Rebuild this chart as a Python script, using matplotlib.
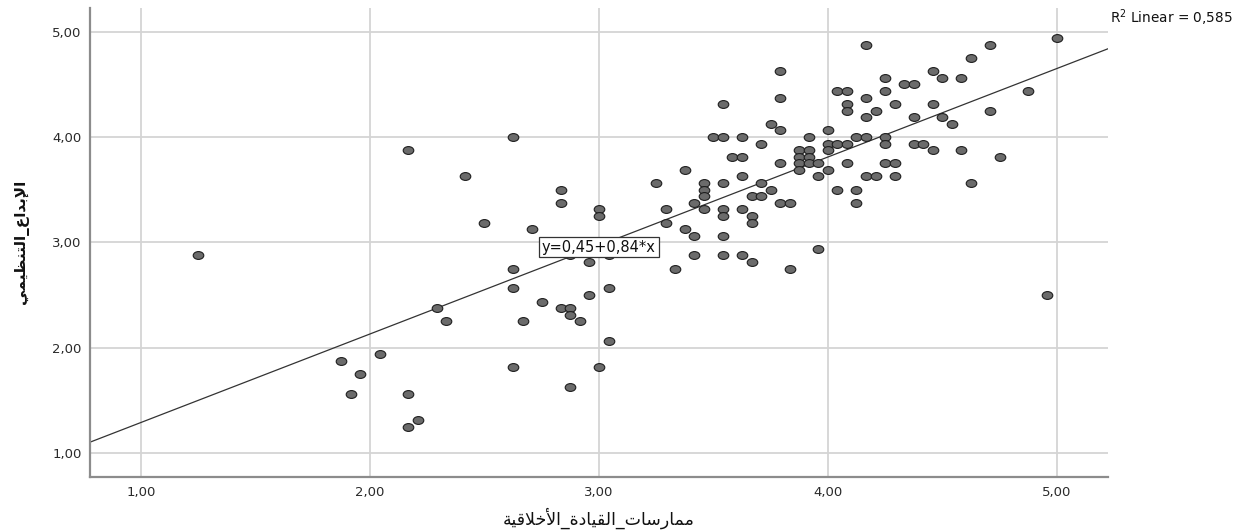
import matplotlib
matplotlib.use("Agg")
import matplotlib.pyplot as plt
import numpy as np
from matplotlib.path import Path
from matplotlib.transforms import Affine2D
from matplotlib.ticker import FuncFormatter, FixedLocator

# ---------------- data ----------------
x_vals = [1.25, 2.167, 2.417, 2.5, 2.625, 2.625, 2.292, 2.333, 2.667, 2.042,
          1.875, 1.958, 1.917, 2.167, 2.208, 2.167, 2.625, 2.625, 2.833, 2.833,
          2.708, 3.0, 3.0, 2.875, 3.042, 2.958, 3.042, 2.958, 2.75, 2.833,
          2.875, 2.875, 2.917, 3.042, 3.0, 2.875, 3.25, 3.292, 3.292, 3.375,
          3.417, 3.375, 3.417, 3.417, 3.333, 3.458, 3.458, 3.458, 3.458, 3.5,
          3.542, 3.542, 3.625, 3.583, 3.625, 3.542, 3.625, 3.542, 3.542, 3.625,
          3.667, 3.667, 3.542, 3.542, 3.625, 3.667, 3.708, 3.75, 3.792, 3.708,
          3.667, 3.708, 3.75, 3.792, 3.792, 3.833, 4.167, 3.792, 3.792, 3.917,
          4.0, 4.042, 4.083, 4.083, 4.083, 4.167, 4.167, 4.208, 4.25, 4.25,
          4.292, 4.333, 4.375, 4.458, 4.5, 4.458, 4.375, 4.5, 4.0, 4.042,
          4.083, 4.125, 4.167, 4.25, 4.25, 4.375, 4.417, 4.458, 4.0, 3.875,
          3.875, 3.875, 3.875, 3.917, 3.917, 3.917, 3.958, 4.0, 4.083, 4.25,
          4.292, 3.958, 4.042, 4.125, 4.125, 4.167, 4.208, 4.292, 3.833, 3.958,
          5.0, 4.708, 4.625, 4.583, 4.875, 4.542, 4.708, 4.583, 4.75, 4.625,
          4.958]
y_vals = [2.875, 3.875, 3.625, 3.1875, 2.75, 2.5625, 2.375, 2.25, 2.25, 1.9375,
          1.875, 1.75, 1.5625, 1.5625, 1.3125, 1.25, 1.8125, 4.0, 3.5, 3.375,
          3.125, 3.3125, 3.25, 2.875, 2.875, 2.8125, 2.5625, 2.5, 2.4375, 2.375,
          2.375, 2.3125, 2.25, 2.0625, 1.8125, 1.625, 3.5625, 3.3125, 3.1875, 3.6875,
          3.375, 3.125, 3.0625, 2.875, 2.75, 3.5625, 3.5, 3.4375, 3.3125, 4.0,
          4.0, 4.3125, 4.0, 3.8125, 3.8125, 3.5625, 3.625, 3.3125, 3.25, 3.3125,
          3.25, 3.1875, 3.0625, 2.875, 2.875, 2.8125, 3.9375, 4.125, 4.0625, 3.5625,
          3.4375, 3.4375, 3.5, 3.75, 3.375, 3.375, 4.875, 4.625, 4.375, 4.0,
          4.0625, 4.4375, 4.4375, 4.3125, 4.25, 4.375, 4.1875, 4.25, 4.5625, 4.4375,
          4.3125, 4.5, 4.5, 4.625, 4.5625, 4.3125, 4.1875, 4.1875, 3.9375, 3.9375,
          3.9375, 4.0, 4.0, 4.0, 3.9375, 3.9375, 3.9375, 3.875, 3.875, 3.875,
          3.8125, 3.75, 3.6875, 3.875, 3.8125, 3.75, 3.75, 3.6875, 3.75, 3.75,
          3.75, 3.625, 3.5, 3.5, 3.375, 3.625, 3.625, 3.625, 2.75, 2.9375,
          4.9375, 4.875, 4.75, 4.5625, 4.4375, 4.125, 4.25, 3.875, 3.8125, 3.5625,
          2.5]
intercept = 0.45
slope = 0.84
r2_value = "0,585"
tick_values = [1.0, 2.0, 3.0, 4.0, 5.0]
x_label = "ممارسات_القيادة_الأخلاقية"
y_label = "الإبداع_التنظيمي"

# ------------- minimal Arabic shaping (presentation forms) -------------
FORMS = {  # isolated, final, initial, medial
    'ا': (0xFE8D, 0xFE8E, None, None), 'أ': (0xFE83, 0xFE84, None, None),
    'إ': (0xFE87, 0xFE88, None, None), 'د': (0xFEA9, 0xFEAA, None, None),
    'ر': (0xFEAD, 0xFEAE, None, None), 'ة': (0xFE93, 0xFE94, None, None),
    'ب': (0xFE8F, 0xFE90, 0xFE91, 0xFE92), 'ت': (0xFE95, 0xFE96, 0xFE97, 0xFE98),
    'خ': (0xFEA5, 0xFEA6, 0xFEA7, 0xFEA8), 'س': (0xFEB1, 0xFEB2, 0xFEB3, 0xFEB4),
    'ظ': (0xFEC5, 0xFEC6, 0xFEC7, 0xFEC8), 'ع': (0xFEC9, 0xFECA, 0xFECB, 0xFECC),
    'ق': (0xFED5, 0xFED6, 0xFED7, 0xFED8), 'ل': (0xFEDD, 0xFEDE, 0xFEDF, 0xFEE0),
    'م': (0xFEE1, 0xFEE2, 0xFEE3, 0xFEE4), 'ن': (0xFEE5, 0xFEE6, 0xFEE7, 0xFEE8),
    'ي': (0xFEF1, 0xFEF2, 0xFEF3, 0xFEF4),
}
LAMALEF = {'ا': (0xFEFB, 0xFEFC), 'أ': (0xFEF7, 0xFEF8), 'إ': (0xFEF9, 0xFEFA)}


def shape(text):
    chars = list(text)
    units = []
    i = 0
    while i < len(chars):
        c = chars[i]
        if c == 'ل' and i + 1 < len(chars) and chars[i + 1] in LAMALEF:
            units.append(('LA', chars[i + 1]))
            i += 2
        else:
            units.append(('C', c))
            i += 1

    def dual(u):
        return u[0] == 'C' and u[1] in FORMS and FORMS[u[1]][2] is not None

    def arabic(u):
        return u[0] == 'LA' or u[1] in FORMS

    out = []
    for k, u in enumerate(units):
        prev_join = k > 0 and dual(units[k - 1])
        if u[0] == 'LA':
            iso, fin = LAMALEF[u[1]]
            out.append(chr(fin if prev_join else iso))
            continue
        c = u[1]
        if c not in FORMS:
            out.append(c)
            continue
        f = FORMS[c]
        next_join = (f[2] is not None) and k + 1 < len(units) and arabic(units[k + 1])
        if prev_join and next_join:
            g = f[3]
        elif prev_join:
            g = f[1]
        elif next_join:
            g = f[2]
        else:
            g = f[0]
        out.append(chr(g))
    return ''.join(reversed(out))


# ---------------- figure ----------------
fig = plt.figure(figsize=(12.42, 5.32), dpi=100)
ax = fig.add_axes([0.0725, 0.104, 0.8195, 0.881])

ax.set_xlim(0.777, 5.223)
ax.set_ylim(0.775, 5.225)

ax.xaxis.set_major_locator(FixedLocator(tick_values))
ax.yaxis.set_major_locator(FixedLocator(tick_values))
fmt = FuncFormatter(lambda v, p: f"{v:.2f}".replace('.', ','))
ax.xaxis.set_major_formatter(fmt)
ax.yaxis.set_major_formatter(fmt)
ax.tick_params(axis='both', length=0, labelsize=9.5, colors='#2a2a2a',
               labelfontfamily='DejaVu Sans')
ax.tick_params(axis='x', pad=6.5)
ax.tick_params(axis='y', pad=6)

ax.grid(True, color='#d4d4d4', linewidth=1.3, zorder=0)
ax.set_axisbelow(True)
for s in ['top', 'right']:
    ax.spines[s].set_visible(False)
for s in ['left', 'bottom']:
    ax.spines[s].set_color('#8c8c8c')
    ax.spines[s].set_linewidth(1.6)

# regression line
xl = np.array(ax.get_xlim())
ax.plot(xl, intercept + slope * xl, color='#333333', linewidth=0.9, zorder=2)

# elliptical markers
ell = Path.unit_circle().transformed(Affine2D().scale(1.35, 1.0))
ax.scatter(x_vals, y_vals, s=58, marker=ell, facecolor='#6b6b6b',
           edgecolor='#1e1e1e', linewidth=0.8, zorder=3)

# equation label
ax.text(3.0, 2.955, "y=0,45+0,84*x", ha='center', va='center', fontsize=10.5,
        family='DejaVu Sans', color='#111111', zorder=5,
        bbox=dict(boxstyle='square,pad=0.18', facecolor='white',
                  edgecolor='#333333', linewidth=0.9))

fig.text(0.8935, 0.966, "R$^2$ Linear = " + r2_value, fontsize=9.8,
         family='DejaVu Sans', ha='left', va='center', color='#111111')

ax.set_xlabel(shape(x_label), fontsize=12.5, family='DejaVu Sans',
              labelpad=6, color='#111111')
ax.set_ylabel(shape(y_label), fontsize=11, family='DejaVu Sans',
              fontweight='bold', labelpad=17, color='#111111')

fig.savefig("out.png", dpi=100)
